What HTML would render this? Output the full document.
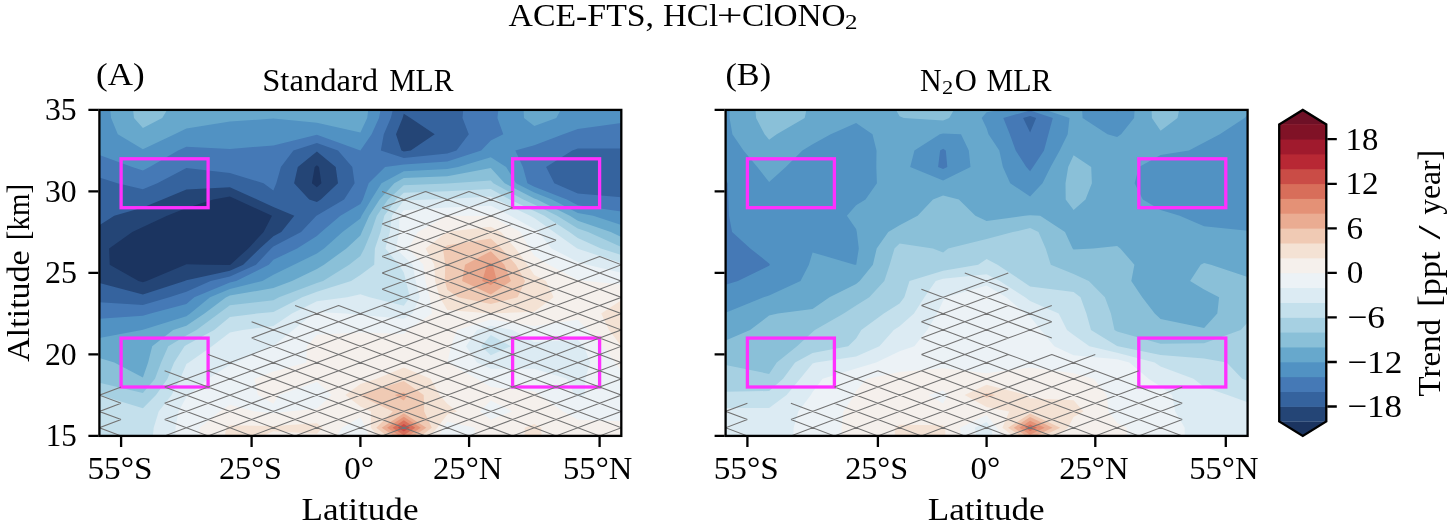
<!DOCTYPE html>
<html><head><meta charset="utf-8"><title>ACE-FTS, HCl+ClONO2</title>
<style>html,body{margin:0;padding:0;background:#fff}svg{display:block}</style></head>
<body>
<svg width="1450" height="523" viewBox="0 0 1450 523">
<defs>
<clipPath id="clipA"><rect x="99.4" y="109.9" width="521.9" height="326.0"/></clipPath>
<clipPath id="clipB"><rect x="725.6" y="109.9" width="522.0" height="326.0"/></clipPath>
</defs>
<g clip-path="url(#clipA)">
<rect x="99.4" y="109.9" width="521.9" height="326.0" fill="#1b3460"/>
<path d="M142.9 444.0L186.4 444.0L229.9 444.0L273.4 444.0L316.9 444.0L360.4 444.0L403.8 444.0L447.3 444.0L490.8 444.0L534.3 444.0L577.8 444.0L621.3 444.0L621.3 427.8L621.3 411.4L621.3 395.1L621.3 378.8L621.3 362.5L621.3 346.2L621.3 329.9L621.3 313.6L621.3 297.3L621.3 281.0L621.3 264.8L621.3 248.4L621.3 232.1L621.3 215.8L621.3 199.5L621.3 183.2L621.3 166.9L621.3 150.6L621.3 134.3L621.3 118.0L621.3 101.8L577.8 101.8L534.3 101.8L490.8 101.8L447.3 101.8L403.8 101.8L360.4 101.8L316.9 101.8L273.4 101.8L229.9 101.8L186.4 101.8L142.9 101.8L99.4 101.8L99.4 118.0L99.4 134.3L99.4 150.6L99.4 166.9L99.4 183.2L99.4 199.5L99.4 215.8L99.4 232.1L99.4 248.4L99.4 264.8L99.4 281.0L99.4 297.3L99.4 313.6L99.4 329.9L99.4 346.2L99.4 362.5L99.4 378.8L99.4 395.1L99.4 411.4L99.4 427.8L99.4 444.0ZM138.5 281.0L109.7 264.8L109.1 248.4L132.3 232.1L142.9 227.0L167.0 215.8L186.4 208.1L213.2 199.5L229.9 196.6L236.5 199.5L272.0 215.8L263.6 232.1L248.3 248.4L230.4 264.8L229.9 265.0L205.6 264.8L186.4 264.3L185.3 264.8L146.7 281.0L142.9 282.3ZM311.9 183.2L314.7 166.9L316.9 165.2L319.0 166.9L321.4 183.2L316.9 187.3Z" fill="#244576"/>
<path d="M142.9 444.0L186.4 444.0L229.9 444.0L273.4 444.0L316.9 444.0L360.4 444.0L403.8 444.0L447.3 444.0L490.8 444.0L534.3 444.0L577.8 444.0L621.3 444.0L621.3 427.8L621.3 411.4L621.3 395.1L621.3 378.8L621.3 362.5L621.3 346.2L621.3 329.9L621.3 313.6L621.3 297.3L621.3 281.0L621.3 264.8L621.3 248.4L621.3 232.1L621.3 215.8L621.3 199.5L621.3 183.2L621.3 166.9L621.3 150.6L621.3 134.3L621.3 118.0L621.3 101.8L577.8 101.8L534.3 101.8L490.8 101.8L447.3 101.8L403.8 101.8L360.4 101.8L316.9 101.8L273.4 101.8L229.9 101.8L186.4 101.8L142.9 101.8L99.4 101.8L99.4 118.0L99.4 134.3L99.4 150.6L99.4 166.9L99.4 183.2L99.4 199.5L99.4 215.8L99.4 225.2L114.2 215.8L142.9 207.4L162.4 199.5L186.4 189.5L229.9 187.3L257.1 199.5L273.4 206.9L294.3 215.8L281.3 232.1L273.4 236.3L259.8 248.4L243.2 264.8L229.9 270.8L186.4 280.3L184.6 281.1L142.9 294.5L99.4 282.9L99.4 297.3L99.4 313.6L99.4 329.9L99.4 346.2L99.4 362.5L99.4 378.8L99.4 395.1L99.4 411.4L99.4 427.8L99.4 444.0ZM309.2 199.5L294.1 183.2L297.8 166.9L316.9 151.5L335.7 166.9L338.0 183.2L320.8 199.5L316.9 201.9ZM401.4 150.6L396.0 134.3L402.6 118.0L403.8 113.8L410.5 118.0L434.7 134.3L410.7 150.6L403.8 151.4Z" fill="#35639e"/>
<path d="M142.9 444.0L186.4 444.0L229.9 444.0L273.4 444.0L316.9 444.0L360.4 444.0L403.8 444.0L447.3 444.0L490.8 444.0L534.3 444.0L577.8 444.0L621.3 444.0L621.3 427.8L621.3 411.4L621.3 395.1L621.3 378.8L621.3 362.5L621.3 346.2L621.3 329.9L621.3 313.6L621.3 297.3L621.3 281.0L621.3 264.8L621.3 248.4L621.3 232.1L621.3 215.8L621.3 199.5L621.3 197.2L577.8 193.5L554.3 183.2L546.1 166.9L572.3 150.6L577.8 148.6L621.3 148.4L621.3 134.3L621.3 118.0L621.3 101.8L577.8 101.8L534.3 101.8L490.8 101.8L464.0 101.8L462.5 118.0L468.8 134.3L456.5 150.6L447.3 153.6L403.8 157.9L380.8 150.6L383.8 134.3L390.8 118.0L394.9 101.8L360.4 101.8L316.9 101.8L273.4 101.8L229.9 101.8L186.4 101.8L142.9 101.8L99.4 101.8L99.4 118.0L99.4 134.3L99.4 150.6L99.4 166.9L99.4 177.6L117.5 183.2L142.9 189.2L157.3 183.2L186.4 168.0L229.9 173.0L263.5 183.2L273.4 190.4L276.3 183.2L280.9 166.9L293.4 150.6L316.9 142.9L338.0 150.6L352.3 166.9L354.6 183.2L344.1 199.5L316.9 215.6L316.4 215.8L301.1 232.1L273.4 246.5L271.2 248.4L256.0 264.8L229.9 276.6L210.6 281.0L186.4 291.8L169.3 297.3L142.9 305.1L99.4 302.3L99.4 313.6L99.4 329.9L99.4 346.2L99.4 362.5L99.4 378.8L99.4 395.1L99.4 411.4L99.4 427.8L99.4 444.0Z" fill="#4579b6"/>
<path d="M142.9 444.0L186.4 444.0L229.9 444.0L273.4 444.0L316.9 444.0L360.4 444.0L403.8 444.0L447.3 444.0L490.8 444.0L534.3 444.0L577.8 444.0L621.3 444.0L621.3 427.8L621.3 411.4L621.3 395.1L621.3 378.8L621.3 362.5L621.3 346.2L621.3 329.9L621.3 313.6L621.3 297.3L621.3 281.0L621.3 264.8L621.3 248.4L621.3 232.1L621.3 215.8L621.3 211.5L577.8 205.2L566.9 199.5L534.3 186.8L527.4 183.2L522.9 166.9L515.3 150.6L534.3 145.2L563.3 134.3L577.8 129.0L621.3 123.1L621.3 118.0L621.3 101.8L577.8 101.8L534.3 101.8L499.3 101.8L497.4 118.0L503.3 134.3L490.8 140.6L481.2 150.6L447.3 161.4L403.8 164.4L385.1 166.9L368.7 183.2L362.9 199.5L360.4 203.9L340.4 215.8L321.3 232.1L316.9 236.0L297.1 248.4L273.4 259.8L268.8 264.8L236.2 281.0L229.9 282.6L194.3 297.3L186.4 304.0L150.5 313.6L142.9 315.8L99.4 318.7L99.4 329.9L99.4 346.2L99.4 362.5L99.4 378.8L99.4 395.1L99.4 411.4L99.4 427.8L99.4 444.0ZM142.9 170.4L149.6 166.9L178.1 150.6L186.4 146.8L229.9 149.0L273.4 145.4L316.9 134.7L360.4 150.5L371.6 134.3L379.0 118.0L382.1 101.8L360.4 101.8L316.9 101.8L273.4 101.8L229.9 101.8L186.4 101.8L142.9 101.8L99.4 101.8L99.4 118.0L99.4 134.3L99.4 150.6L99.4 154.9L132.2 166.9Z" fill="#5192c3"/>
<path d="M142.9 444.0L186.4 444.0L229.9 444.0L273.4 444.0L316.9 444.0L360.4 444.0L403.8 444.0L447.3 444.0L490.8 444.0L534.3 444.0L577.8 444.0L621.3 444.0L621.3 427.8L621.3 411.4L621.3 395.1L621.3 378.8L621.3 362.5L621.3 346.2L621.3 329.9L621.3 313.6L621.3 297.3L621.3 281.0L621.3 264.8L621.3 248.4L621.3 232.1L621.3 224.9L593.2 215.8L577.8 213.0L552.0 199.5L534.3 192.6L516.0 183.2L506.1 166.9L490.8 157.2L458.0 166.9L447.3 169.1L403.8 171.2L381.5 183.2L371.3 199.5L361.6 215.8L360.4 218.6L342.5 232.1L324.1 248.4L316.9 253.5L293.9 264.8L273.4 274.7L262.4 281.0L229.9 289.1L210.0 297.3L190.2 313.6L186.4 316.2L142.9 329.8L141.8 329.9L99.4 337.9L99.4 346.2L99.4 362.5L99.4 378.8L99.4 395.1L99.4 411.4L99.4 427.8L99.4 444.0ZM142.9 149.2L174.6 134.3L186.4 128.6L229.9 121.6L273.4 118.5L316.9 122.7L360.4 132.5L367.2 118.0L369.3 101.8L360.4 101.8L316.9 101.8L273.4 101.8L229.9 101.8L186.4 101.8L142.9 101.8L109.4 101.8L111.1 118.0L117.8 134.3ZM534.3 126.1L556.3 118.0L565.1 101.8L534.3 101.8L523.2 101.8L524.0 118.0Z" fill="#67a8cc"/>
<path d="M142.9 444.0L186.4 444.0L229.9 444.0L273.4 444.0L316.9 444.0L360.4 444.0L403.8 444.0L447.3 444.0L490.8 444.0L534.3 444.0L577.8 444.0L621.3 444.0L621.3 427.8L621.3 411.4L621.3 395.1L621.3 378.8L621.3 362.5L621.3 346.2L621.3 329.9L621.3 313.6L621.3 297.3L621.3 281.0L621.3 264.8L621.3 248.4L621.3 236.9L610.8 232.1L577.8 220.8L569.8 215.8L537.1 199.5L534.3 198.5L504.7 183.2L490.8 168.1L447.3 176.2L403.8 178.1L394.3 183.2L379.6 199.5L369.2 215.8L361.9 232.1L360.4 235.5L346.4 248.4L324.0 264.8L316.9 269.1L292.0 281.0L273.4 288.1L229.9 295.6L225.8 297.4L204.5 313.6L186.4 325.8L173.2 329.9L152.2 346.2L148.1 362.5L142.9 377.4L114.3 362.5L99.4 358.1L99.4 362.5L99.4 378.8L99.4 395.1L99.4 411.4L99.4 427.8L99.4 444.0ZM142.9 128.0L162.2 118.0L172.1 101.8L142.9 101.8L132.2 101.8L134.0 118.0Z" fill="#8ac0d8"/>
<path d="M142.9 444.0L186.4 444.0L229.9 444.0L273.4 444.0L316.9 444.0L360.4 444.0L403.8 444.0L447.3 444.0L490.8 444.0L534.3 444.0L577.8 444.0L621.3 444.0L621.3 427.8L621.3 411.4L621.3 395.1L621.3 378.8L621.3 362.5L621.3 346.2L621.3 329.9L621.3 313.6L621.3 297.3L621.3 281.0L621.3 264.8L621.3 248.4L621.3 247.0L588.1 232.1L577.8 228.6L557.1 215.8L534.3 204.6L523.3 199.5L493.3 183.3L490.8 180.6L451.2 183.2L447.3 183.4L403.8 185.2L388.0 199.5L376.8 215.8L371.2 232.1L364.3 248.4L360.4 256.0L349.2 264.8L323.1 281.0L316.9 283.0L279.0 297.3L273.4 300.2L229.9 305.3L218.8 313.6L196.5 329.9L186.4 335.5L168.3 346.2L161.1 362.5L155.0 378.8L142.9 392.9L99.4 382.8L99.4 395.1L99.4 411.4L99.4 427.8L99.4 444.0Z" fill="#a6d0e2"/>
<path d="M142.9 444.0L186.4 444.0L229.9 444.0L273.4 444.0L316.9 444.0L360.4 444.0L403.8 444.0L447.3 444.0L490.8 444.0L534.3 444.0L577.8 444.0L621.3 444.0L621.3 427.8L621.3 411.4L621.3 395.1L621.3 378.8L621.3 362.5L621.3 346.2L621.3 329.9L621.3 313.6L621.3 297.3L621.3 281.0L621.3 264.8L621.3 255.1L600.9 248.4L577.8 238.0L569.4 232.1L544.4 215.8L534.3 210.9L509.8 199.5L490.8 189.1L447.3 191.2L403.8 192.8L396.4 199.5L384.3 215.8L380.5 232.1L374.9 248.4L374.2 264.8L360.4 275.0L351.1 281.0L316.9 291.8L302.2 297.3L273.4 312.0L256.6 313.6L229.9 317.0L214.2 329.9L186.4 345.1L184.5 346.2L174.1 362.5L167.5 378.8L156.0 395.1L142.9 408.3L99.4 395.1L99.4 395.1L99.4 395.1L99.4 411.4L99.4 427.8L99.4 444.0Z" fill="#c4e0ec"/>
<path d="M186.4 444.0L229.9 444.0L273.4 444.0L316.9 444.0L360.4 444.0L403.8 444.0L447.3 444.0L490.8 444.0L534.3 444.0L577.8 444.0L621.3 444.0L621.3 427.8L621.3 411.4L621.3 395.1L621.3 378.8L621.3 362.5L621.3 346.2L621.3 329.9L621.3 313.6L621.3 297.3L621.3 281.0L621.3 264.8L621.3 262.9L577.8 248.8L577.2 248.4L554.0 232.1L534.3 218.1L530.2 215.8L496.3 199.5L490.8 196.5L447.3 199.0L429.8 199.5L403.8 200.6L391.9 215.8L389.8 232.1L385.4 248.4L398.9 264.8L403.8 272.5L406.0 281.0L409.8 297.3L403.8 305.8L369.5 297.3L360.4 294.2L347.2 297.3L316.9 301.3L291.9 313.6L273.4 326.0L242.6 329.9L229.9 332.5L212.0 346.2L188.8 362.5L186.4 364.1L180.1 378.8L171.6 395.1L158.7 411.4L153.7 427.8L152.0 444.0ZM481.1 346.2L490.8 335.0L510.9 346.2L490.8 355.2Z" fill="#dcebf3"/>
<path d="M186.4 444.0L229.9 444.0L273.4 444.0L316.9 444.0L360.4 444.0L403.8 444.0L447.3 444.0L490.8 444.0L534.3 444.0L577.8 444.0L621.3 444.0L621.3 427.8L621.3 411.4L621.3 395.1L621.3 378.8L621.3 362.5L621.3 346.2L621.3 329.9L621.3 313.6L621.3 297.3L621.3 281.0L621.3 272.8L587.2 264.8L577.8 262.0L551.6 248.4L538.7 232.1L534.3 229.1L510.4 215.8L490.8 205.7L447.3 207.4L403.8 210.2L399.4 215.8L399.1 232.1L396.0 248.4L403.8 256.3L412.6 264.8L415.7 281.0L419.8 297.3L412.4 313.6L403.8 318.8L360.4 314.9L345.6 313.6L316.9 312.0L313.5 313.6L293.1 329.9L273.4 346.0L272.3 346.2L235.8 362.5L229.9 364.8L208.2 378.8L189.1 395.1L186.4 396.9L178.5 411.4L175.5 427.7L174.9 444.1ZM314.1 395.1L316.9 394.2L317.9 395.1L316.9 396.1ZM574.5 395.1L566.9 378.8L534.3 368.7L490.8 368.7L477.0 362.5L466.0 346.2L476.9 329.9L490.8 325.7L512.6 329.9L534.3 342.1L577.8 340.1L583.9 346.2L590.2 362.5L585.3 378.8L584.8 395.1L577.8 397.0Z" fill="#ecf2f6"/>
<path d="M229.9 444.0L273.4 444.0L316.9 444.0L331.9 444.0L341.9 427.8L360.4 417.2L365.5 427.8L372.4 444.0L403.8 444.0L436.2 444.0L442.7 427.8L447.3 421.7L474.9 427.8L474.7 444.0L490.8 444.0L534.3 444.0L577.8 444.0L621.3 444.0L621.3 427.8L621.3 421.3L577.8 419.7L563.2 411.4L539.4 395.1L534.3 391.6L490.8 386.9L476.8 378.8L447.5 362.5L451.0 346.2L457.2 329.9L490.8 319.6L534.3 326.0L577.8 319.8L587.7 329.9L602.7 346.2L615.1 362.5L621.3 370.7L621.3 362.5L621.3 346.2L621.3 329.9L621.3 313.6L621.3 297.3L621.3 284.4L586.2 281.0L577.8 280.0L548.9 264.8L534.3 255.8L529.7 248.4L520.4 232.1L490.8 216.0L456.4 215.8L447.3 215.8L446.9 215.8L417.9 232.1L408.2 248.4L423.4 264.8L425.4 281.0L429.7 297.3L431.9 313.6L407.9 329.9L403.8 334.0L360.4 332.4L316.9 334.8L306.8 346.2L306.3 362.5L273.4 371.6L254.4 378.8L257.9 395.1L273.4 403.7L278.6 395.1L316.9 381.8L331.7 395.1L316.9 408.5L289.0 411.4L273.4 413.2L254.9 411.4L229.9 404.8L219.7 411.4L199.6 427.8L198.8 444.0ZM479.8 411.4L490.8 400.6L512.1 411.4L490.8 419.6Z" fill="#f5f0ec"/>
<path d="M229.9 444.0L244.6 444.0L273.4 431.2L316.9 433.8L322.5 427.8L316.9 423.2L273.4 426.0L229.9 425.3L226.1 427.7L223.6 444.0ZM403.8 444.0L423.3 444.0L437.2 427.8L447.3 414.5L457.0 411.4L447.3 403.8L439.6 395.1L430.5 378.8L403.8 367.6L376.7 378.8L360.4 383.9L345.5 395.1L360.4 406.4L371.0 411.4L370.9 427.8L384.9 444.0ZM534.3 444.0L541.7 444.0L541.3 427.8L534.3 424.1L524.8 427.8L524.1 444.0ZM621.3 346.0L621.3 329.9L621.3 313.6L621.3 300.2L601.2 313.6L609.0 329.9ZM447.3 310.1L490.8 313.5L534.3 311.7L553.6 297.3L546.0 281.0L534.3 275.1L527.4 264.8L515.6 248.4L500.9 232.1L490.8 226.7L447.3 231.8L446.7 232.1L425.6 248.4L434.3 264.8L435.1 281.0L439.7 297.3Z" fill="#f4e2d4"/>
<path d="M403.8 444.0L410.4 444.0L431.8 427.8L424.2 411.4L423.7 395.1L403.8 381.0L360.4 394.3L359.3 395.1L360.4 396.0L392.8 411.4L376.3 427.8L397.5 444.0ZM490.8 304.1L517.6 297.3L525.1 281.0L515.9 264.8L501.5 248.4L490.8 238.5L447.3 245.2L443.0 248.4L445.2 264.8L444.8 281.0L447.3 289.7L458.1 297.3Z" fill="#f0cab4"/>
<path d="M403.8 442.3L426.3 427.8L403.8 413.2L381.7 427.8ZM403.8 400.6L407.7 395.1L403.8 392.4L394.7 395.1ZM490.8 294.6L511.0 281.0L504.3 264.8L490.8 251.2L465.0 264.8L462.1 281.0Z" fill="#eaac92"/>
<path d="M403.8 438.7L420.8 427.8L403.8 416.8L387.1 427.8ZM490.8 285.1L496.9 281.0L492.8 264.8L490.8 262.8L487.0 264.7L482.2 281.0Z" fill="#e49176"/>
<path d="M403.8 435.2L415.3 427.8L403.8 420.3L392.5 427.8Z" fill="#d86e5a"/>
<path d="M403.8 431.6L409.8 427.8L403.8 423.9L397.9 427.8Z" fill="#ca4c46"/>
<path d="M403.8 428.1L404.4 427.8L403.8 427.4L403.3 427.8Z" fill="#b82834"/>
<rect x="121.1" y="158.8" width="87.0" height="48.9" fill="none" stroke="#ff30ff" stroke-width="3.3"/>
<rect x="121.1" y="338.1" width="87.0" height="48.9" fill="none" stroke="#ff30ff" stroke-width="3.3"/>
<rect x="512.6" y="158.8" width="87.0" height="48.9" fill="none" stroke="#ff30ff" stroke-width="3.3"/>
<rect x="512.6" y="338.1" width="87.0" height="48.9" fill="none" stroke="#ff30ff" stroke-width="3.3"/>
<path d="M77.7 435.9L121.1 419.6M77.7 419.6L121.1 435.9M164.6 435.9L208.1 419.6M164.6 419.6L208.1 435.9M208.1 435.9L251.6 419.6M208.1 419.6L251.6 435.9M251.6 435.9L295.1 419.6M251.6 419.6L295.1 435.9M295.1 435.9L338.6 419.6M295.1 419.6L338.6 435.9M338.6 435.9L382.1 419.6M338.6 419.6L382.1 435.9M382.1 435.9L425.6 419.6M382.1 419.6L425.6 435.9M425.6 435.9L469.1 419.6M425.6 419.6L469.1 435.9M469.1 435.9L512.6 419.6M469.1 419.6L512.6 435.9M512.6 435.9L556.1 419.6M512.6 419.6L556.1 435.9M556.1 435.9L599.6 419.6M556.1 419.6L599.6 435.9M599.6 435.9L643.0 419.6M599.6 419.6L643.0 435.9M77.7 419.6L121.1 403.3M77.7 403.3L121.1 419.6M164.6 419.6L208.1 403.3M164.6 403.3L208.1 419.6M208.1 419.6L251.6 403.3M208.1 403.3L251.6 419.6M251.6 419.6L295.1 403.3M251.6 403.3L295.1 419.6M295.1 419.6L338.6 403.3M295.1 403.3L338.6 419.6M338.6 419.6L382.1 403.3M338.6 403.3L382.1 419.6M382.1 419.6L425.6 403.3M382.1 403.3L425.6 419.6M425.6 419.6L469.1 403.3M425.6 403.3L469.1 419.6M469.1 419.6L512.6 403.3M469.1 403.3L512.6 419.6M512.6 419.6L556.1 403.3M512.6 403.3L556.1 419.6M556.1 419.6L599.6 403.3M556.1 403.3L599.6 419.6M599.6 419.6L643.0 403.3M599.6 403.3L643.0 419.6M77.7 403.3L121.1 387.0M77.7 387.0L121.1 403.3M164.6 403.3L208.1 387.0M164.6 387.0L208.1 403.3M208.1 403.3L251.6 387.0M208.1 387.0L251.6 403.3M251.6 403.3L295.1 387.0M251.6 387.0L295.1 403.3M295.1 403.3L338.6 387.0M295.1 387.0L338.6 403.3M338.6 403.3L382.1 387.0M338.6 387.0L382.1 403.3M382.1 403.3L425.6 387.0M382.1 387.0L425.6 403.3M425.6 403.3L469.1 387.0M425.6 387.0L469.1 403.3M469.1 403.3L512.6 387.0M469.1 387.0L512.6 403.3M512.6 403.3L556.1 387.0M512.6 387.0L556.1 403.3M556.1 403.3L599.6 387.0M556.1 387.0L599.6 403.3M599.6 403.3L643.0 387.0M599.6 387.0L643.0 403.3M164.6 387.0L208.1 370.7M164.6 370.7L208.1 387.0M208.1 387.0L251.6 370.7M208.1 370.7L251.6 387.0M251.6 387.0L295.1 370.7M251.6 370.7L295.1 387.0M295.1 387.0L338.6 370.7M295.1 370.7L338.6 387.0M338.6 387.0L382.1 370.7M338.6 370.7L382.1 387.0M382.1 387.0L425.6 370.7M382.1 370.7L425.6 387.0M425.6 387.0L469.1 370.7M425.6 370.7L469.1 387.0M469.1 387.0L512.6 370.7M469.1 370.7L512.6 387.0M512.6 387.0L556.1 370.7M512.6 370.7L556.1 387.0M556.1 387.0L599.6 370.7M556.1 370.7L599.6 387.0M599.6 387.0L643.0 370.7M599.6 370.7L643.0 387.0M208.1 370.7L251.6 354.4M208.1 354.4L251.6 370.7M251.6 370.7L295.1 354.4M251.6 354.4L295.1 370.7M295.1 370.7L338.6 354.4M295.1 354.4L338.6 370.7M338.6 370.7L382.1 354.4M338.6 354.4L382.1 370.7M382.1 370.7L425.6 354.4M382.1 354.4L425.6 370.7M425.6 370.7L469.1 354.4M425.6 354.4L469.1 370.7M469.1 370.7L512.6 354.4M469.1 354.4L512.6 370.7M512.6 370.7L556.1 354.4M512.6 354.4L556.1 370.7M556.1 370.7L599.6 354.4M556.1 354.4L599.6 370.7M599.6 370.7L643.0 354.4M599.6 354.4L643.0 370.7M251.6 354.4L295.1 338.1M251.6 338.1L295.1 354.4M295.1 354.4L338.6 338.1M295.1 338.1L338.6 354.4M338.6 354.4L382.1 338.1M338.6 338.1L382.1 354.4M382.1 354.4L425.6 338.1M382.1 338.1L425.6 354.4M425.6 354.4L469.1 338.1M425.6 338.1L469.1 354.4M469.1 354.4L512.6 338.1M469.1 338.1L512.6 354.4M512.6 354.4L556.1 338.1M512.6 338.1L556.1 354.4M556.1 354.4L599.6 338.1M556.1 338.1L599.6 354.4M599.6 354.4L643.0 338.1M599.6 338.1L643.0 354.4M251.6 338.1L295.1 321.8M251.6 321.8L295.1 338.1M295.1 338.1L338.6 321.8M295.1 321.8L338.6 338.1M338.6 338.1L382.1 321.8M338.6 321.8L382.1 338.1M382.1 338.1L425.6 321.8M382.1 321.8L425.6 338.1M425.6 338.1L469.1 321.8M425.6 321.8L469.1 338.1M469.1 338.1L512.6 321.8M469.1 321.8L512.6 338.1M512.6 338.1L556.1 321.8M512.6 321.8L556.1 338.1M556.1 338.1L599.6 321.8M556.1 321.8L599.6 338.1M599.6 338.1L643.0 321.8M599.6 321.8L643.0 338.1M295.1 321.8L338.6 305.5M295.1 305.5L338.6 321.8M338.6 321.8L382.1 305.5M338.6 305.5L382.1 321.8M382.1 321.8L425.6 305.5M382.1 305.5L425.6 321.8M425.6 321.8L469.1 305.5M425.6 305.5L469.1 321.8M469.1 321.8L512.6 305.5M469.1 305.5L512.6 321.8M512.6 321.8L556.1 305.5M512.6 305.5L556.1 321.8M556.1 321.8L599.6 305.5M556.1 305.5L599.6 321.8M599.6 321.8L643.0 305.5M599.6 305.5L643.0 321.8M382.1 305.5L425.6 289.2M382.1 289.2L425.6 305.5M425.6 305.5L469.1 289.2M425.6 289.2L469.1 305.5M469.1 305.5L512.6 289.2M469.1 289.2L512.6 305.5M512.6 305.5L556.1 289.2M512.6 289.2L556.1 305.5M556.1 305.5L599.6 289.2M556.1 289.2L599.6 305.5M599.6 305.5L643.0 289.2M599.6 289.2L643.0 305.5M382.1 289.2L425.6 272.9M382.1 272.9L425.6 289.2M425.6 289.2L469.1 272.9M425.6 272.9L469.1 289.2M469.1 289.2L512.6 272.9M469.1 272.9L512.6 289.2M512.6 289.2L556.1 272.9M512.6 272.9L556.1 289.2M556.1 289.2L599.6 272.9M556.1 272.9L599.6 289.2M599.6 289.2L643.0 272.9M599.6 272.9L643.0 289.2M382.1 272.9L425.6 256.6M382.1 256.6L425.6 272.9M425.6 272.9L469.1 256.6M425.6 256.6L469.1 272.9M469.1 272.9L512.6 256.6M469.1 256.6L512.6 272.9M512.6 272.9L556.1 256.6M512.6 256.6L556.1 272.9M556.1 272.9L599.6 256.6M556.1 256.6L599.6 272.9M599.6 272.9L643.0 256.6M599.6 256.6L643.0 272.9M382.1 256.6L425.6 240.3M382.1 240.3L425.6 256.6M425.6 256.6L469.1 240.3M425.6 240.3L469.1 256.6M469.1 256.6L512.6 240.3M469.1 240.3L512.6 256.6M512.6 256.6L556.1 240.3M512.6 240.3L556.1 256.6M382.1 240.3L425.6 224.0M382.1 224.0L425.6 240.3M425.6 240.3L469.1 224.0M425.6 224.0L469.1 240.3M469.1 240.3L512.6 224.0M469.1 224.0L512.6 240.3M512.6 240.3L556.1 224.0M512.6 224.0L556.1 240.3M382.1 224.0L425.6 207.7M382.1 207.7L425.6 224.0M425.6 224.0L469.1 207.7M425.6 207.7L469.1 224.0M469.1 224.0L512.6 207.7M469.1 207.7L512.6 224.0M382.1 207.7L425.6 191.4M382.1 191.4L425.6 207.7M425.6 207.7L469.1 191.4M425.6 191.4L469.1 207.7M469.1 207.7L512.6 191.4M469.1 191.4L512.6 207.7" fill="none" stroke="#737373" stroke-width="1.1"/>
</g>
<rect x="99.4" y="109.9" width="521.9" height="326.0" fill="none" stroke="#000" stroke-width="2.3"/>
<path d="M98.4 435.9H88.4M98.4 354.4H88.4M98.4 272.9H88.4M98.4 191.4H88.4M98.4 109.9H88.4M121.1 436.9V446.9M251.6 436.9V446.9M360.4 436.9V446.9M469.1 436.9V446.9M599.6 436.9V446.9" stroke="#000" stroke-width="2.3" fill="none"/>
<g clip-path="url(#clipB)">
<rect x="725.6" y="109.9" width="522.0" height="326.0" fill="#1b3460"/>
<path d="M769.1 444.0L812.6 444.0L856.1 444.0L899.6 444.0L943.1 444.0L986.6 444.0L1030.1 444.0L1073.6 444.0L1117.1 444.0L1160.6 444.0L1204.1 444.0L1247.6 444.0L1247.6 427.8L1247.6 411.4L1247.6 395.1L1247.6 378.8L1247.6 362.5L1247.6 346.2L1247.6 329.9L1247.6 313.6L1247.6 297.3L1247.6 281.0L1247.6 264.8L1247.6 248.4L1247.6 232.1L1247.6 215.8L1247.6 199.5L1247.6 183.2L1247.6 166.9L1247.6 150.6L1247.6 134.3L1247.6 118.0L1247.6 101.8L1204.1 101.8L1160.6 101.8L1117.1 101.8L1073.6 101.8L1030.1 101.8L986.6 101.8L943.1 101.8L899.6 101.8L856.1 101.8L812.6 101.8L769.1 101.8L725.6 101.8L725.6 118.0L725.6 134.3L725.6 150.6L725.6 166.9L725.6 183.2L725.6 199.5L725.6 215.8L725.6 232.1L725.6 248.4L725.6 264.8L725.6 281.0L725.6 297.3L725.6 313.6L725.6 329.9L725.6 346.2L725.6 362.5L725.6 378.8L725.6 395.1L725.6 411.4L725.6 427.8L725.6 444.0Z" fill="#244576"/>
<path d="M769.1 444.0L812.6 444.0L856.1 444.0L899.6 444.0L943.1 444.0L986.6 444.0L1030.1 444.0L1073.6 444.0L1117.1 444.0L1160.6 444.0L1204.1 444.0L1247.6 444.0L1247.6 427.8L1247.6 411.4L1247.6 395.1L1247.6 378.8L1247.6 362.5L1247.6 346.2L1247.6 329.9L1247.6 313.6L1247.6 297.3L1247.6 281.0L1247.6 264.8L1247.6 248.4L1247.6 232.1L1247.6 215.8L1247.6 199.5L1247.6 183.2L1247.6 166.9L1247.6 150.6L1247.6 134.3L1247.6 118.0L1247.6 101.8L1204.1 101.8L1160.6 101.8L1117.1 101.8L1073.6 101.8L1030.1 101.8L986.6 101.8L943.1 101.8L899.6 101.8L856.1 101.8L812.6 101.8L769.1 101.8L725.6 101.8L725.6 118.0L725.6 134.3L725.6 150.6L725.6 166.9L725.6 183.2L725.6 199.5L725.6 215.8L725.6 232.1L725.6 248.4L725.6 264.8L725.6 281.0L725.6 297.3L725.6 313.6L725.6 329.9L725.6 346.2L725.6 362.5L725.6 378.8L725.6 395.1L725.6 411.4L725.6 427.8L725.6 444.0Z" fill="#35639e"/>
<path d="M769.1 444.0L812.6 444.0L856.1 444.0L899.6 444.0L943.1 444.0L986.6 444.0L1030.1 444.0L1073.6 444.0L1117.1 444.0L1160.6 444.0L1204.1 444.0L1247.6 444.0L1247.6 427.8L1247.6 411.4L1247.6 395.1L1247.6 378.8L1247.6 362.5L1247.6 346.2L1247.6 329.9L1247.6 313.6L1247.6 297.3L1247.6 281.0L1247.6 264.8L1247.6 248.4L1247.6 232.1L1247.6 215.8L1247.6 199.5L1247.6 183.2L1247.6 166.9L1247.6 150.6L1247.6 134.3L1247.6 118.0L1247.6 101.8L1204.1 101.8L1160.6 101.8L1117.1 101.8L1073.6 101.8L1030.1 101.8L986.6 101.8L943.1 101.8L899.6 101.8L856.1 101.8L812.6 101.8L769.1 101.8L725.6 101.8L725.6 118.0L725.6 134.3L725.6 150.6L725.6 166.9L725.6 183.2L725.6 199.5L725.6 215.8L725.6 232.1L725.6 248.4L725.6 264.8L725.6 281.0L725.6 297.3L725.6 313.6L725.6 329.9L725.6 346.2L725.6 362.5L725.6 378.8L725.6 395.1L725.6 411.4L725.6 427.8L725.6 444.0ZM1023.1 118.0L1030.1 116.0L1036.1 118.0L1030.1 132.5Z" fill="#4579b6"/>
<path d="M769.1 444.0L812.6 444.0L856.1 444.0L899.6 444.0L943.1 444.0L986.6 444.0L1030.1 444.0L1073.6 444.0L1117.1 444.0L1160.6 444.0L1204.1 444.0L1247.6 444.0L1247.6 427.8L1247.6 411.4L1247.6 395.1L1247.6 378.8L1247.6 362.5L1247.6 346.2L1247.6 329.9L1247.6 313.6L1247.6 297.3L1247.6 281.0L1247.6 264.8L1247.6 248.4L1247.6 232.1L1247.6 215.8L1247.6 199.5L1247.6 183.2L1247.6 166.9L1247.6 150.6L1247.6 134.3L1247.6 118.0L1247.6 101.8L1204.1 101.8L1160.6 101.8L1118.6 101.8L1117.1 112.2L1114.1 101.8L1073.6 101.8L1030.1 101.8L986.6 101.8L943.1 101.8L899.6 101.8L856.1 101.8L812.6 101.8L769.1 101.8L725.6 101.8L725.6 118.0L725.6 134.3L725.6 150.6L725.6 166.9L725.6 179.4L727.7 183.2L728.4 199.5L729.0 215.8L732.1 232.1L750.3 248.4L769.1 263.4L769.9 264.8L769.1 265.7L737.9 281.0L725.6 284.8L725.6 297.3L725.6 313.6L725.6 329.9L725.6 346.2L725.6 362.5L725.6 378.8L725.6 395.1L725.6 411.4L725.6 427.8L725.6 444.0ZM938.1 166.9L940.1 150.6L943.1 148.8L945.8 150.6L947.3 166.9L943.1 169.0ZM1026.3 166.9L1015.7 150.6L1009.8 134.3L1003.3 118.0L1030.1 110.4L1052.8 118.0L1048.4 134.3L1044.0 150.6L1033.0 166.9L1030.1 171.2Z" fill="#5192c3"/>
<path d="M769.1 444.0L812.6 444.0L856.1 444.0L899.6 444.0L943.1 444.0L986.6 444.0L1030.1 444.0L1073.6 444.0L1117.1 444.0L1160.6 444.0L1204.1 444.0L1247.6 444.0L1247.6 427.8L1247.6 411.4L1247.6 395.1L1247.6 378.8L1247.6 362.5L1247.6 346.2L1247.6 329.9L1247.6 313.6L1247.6 297.3L1247.6 281.0L1247.6 264.8L1247.6 248.4L1247.6 232.1L1247.6 230.7L1204.1 226.2L1179.7 215.8L1160.6 210.1L1142.8 199.5L1134.6 183.2L1139.0 166.9L1160.6 154.9L1188.9 150.6L1204.1 142.4L1219.8 134.3L1244.6 118.0L1247.6 114.4L1247.6 101.8L1204.1 101.8L1160.6 101.8L1135.0 101.8L1134.1 118.0L1121.1 134.3L1117.1 137.1L1107.5 134.3L1082.6 118.0L1081.7 101.8L1073.6 101.8L1030.1 101.8L986.6 101.8L943.1 101.8L899.6 101.8L856.1 101.8L812.6 101.8L769.1 101.8L729.4 101.8L729.6 118.0L732.4 134.3L743.5 150.6L757.3 166.9L769.1 182.0L785.8 166.9L802.4 150.6L812.6 144.3L830.7 134.3L856.1 123.1L872.5 134.3L876.5 150.6L876.3 166.9L876.9 183.2L865.5 199.5L856.1 205.3L846.9 215.8L856.1 229.0L856.8 232.1L858.8 248.4L856.2 264.8L856.1 264.8L854.5 264.8L812.6 252.4L808.9 264.8L800.5 281.0L769.1 295.6L763.6 297.3L725.6 312.7L725.6 313.6L725.6 329.9L725.6 346.2L725.6 362.5L725.6 378.8L725.6 395.1L725.6 411.4L725.6 427.8L725.6 444.0ZM1010.2 183.2L1002.9 166.9L999.3 150.6L988.5 134.3L986.6 128.3L981.7 118.0L986.6 112.3L1030.1 104.8L1069.5 118.0L1067.7 134.3L1059.7 150.6L1050.6 166.9L1042.5 183.2L1030.1 196.5ZM910.2 166.9L914.4 150.6L939.8 134.3L943.1 133.5L961.0 134.3L968.8 150.6L970.5 166.9L943.1 180.6Z" fill="#67a8cc"/>
<path d="M769.1 444.0L812.6 444.0L856.1 444.0L899.6 444.0L943.1 444.0L986.6 444.0L1030.1 444.0L1073.6 444.0L1117.1 444.0L1160.6 444.0L1204.1 444.0L1247.6 444.0L1247.6 427.8L1247.6 411.4L1247.6 395.1L1247.6 378.8L1247.6 362.5L1247.6 346.2L1247.6 329.9L1247.6 313.6L1247.6 297.3L1247.6 281.0L1247.6 277.0L1210.9 264.8L1204.1 262.9L1200.7 264.8L1190.1 281.1L1204.1 289.6L1219.1 297.3L1217.3 313.6L1204.1 327.9L1160.6 319.1L1154.7 313.6L1142.2 297.3L1131.3 281.0L1134.4 264.8L1120.3 248.4L1117.1 245.9L1093.2 248.4L1073.6 249.6L1072.6 248.4L1065.0 232.1L1040.2 215.8L1030.1 215.3L1024.7 215.8L986.6 221.0L975.4 215.8L958.9 199.5L943.1 195.6L933.0 199.5L917.6 215.8L899.6 225.2L888.3 232.1L876.7 248.4L872.9 264.8L859.7 281.0L856.1 284.0L829.5 297.3L812.6 309.0L777.8 313.6L769.1 315.6L750.1 329.9L725.6 340.6L725.6 346.2L725.6 362.5L725.6 378.8L725.6 395.1L725.6 411.4L725.6 427.8L725.6 444.0ZM1073.6 209.9L1085.5 199.6L1091.9 183.2L1091.2 166.9L1073.6 155.2L1068.2 167.0L1065.5 183.2L1065.7 199.5ZM769.1 139.7L776.7 134.3L804.7 118.0L808.1 101.8L769.1 101.8L754.8 101.8L756.1 118.0L764.6 134.3ZM943.1 120.5L949.2 118.0L958.6 101.8L943.1 101.8L899.6 101.8L891.4 101.8L899.6 116.3L903.7 118.0ZM1160.6 130.8L1177.5 118.0L1180.8 101.8L1160.6 101.8L1151.3 101.8L1151.9 118.0Z" fill="#8ac0d8"/>
<path d="M769.1 444.0L812.6 444.0L856.1 444.0L899.6 444.0L943.1 444.0L986.6 444.0L1030.1 444.0L1073.6 444.0L1117.1 444.0L1160.6 444.0L1204.1 444.0L1247.6 444.0L1247.6 427.8L1247.6 411.4L1247.6 395.1L1247.6 378.8L1247.6 362.5L1247.6 346.2L1247.6 329.9L1247.6 322.6L1240.7 329.9L1204.1 343.2L1160.6 343.8L1117.1 331.6L1114.5 329.9L1110.9 313.6L1104.9 297.3L1088.8 281.0L1073.6 273.9L1050.8 264.8L1045.7 248.4L1038.5 232.1L1030.1 228.1L1012.9 232.1L986.6 238.9L948.1 248.4L943.1 252.6L932.9 248.4L899.6 243.4L894.5 248.4L889.7 264.8L884.3 281.0L869.3 297.3L856.1 305.5L843.7 313.6L814.9 329.9L812.6 332.0L797.0 346.2L776.8 362.5L769.1 373.9L725.6 365.1L725.6 378.8L725.6 395.1L725.6 411.4L725.6 427.8L725.6 444.0Z" fill="#a6d0e2"/>
<path d="M769.1 444.0L812.6 444.0L856.1 444.0L899.6 444.0L943.1 444.0L986.6 444.0L1030.1 444.0L1073.6 444.0L1117.1 444.0L1160.6 444.0L1204.1 444.0L1247.6 444.0L1247.6 427.8L1247.6 411.4L1247.6 395.1L1247.6 380.8L1242.2 378.8L1226.6 362.5L1204.1 358.4L1160.6 354.9L1118.0 346.2L1117.1 346.0L1091.0 329.9L1086.4 313.6L1080.5 297.3L1073.6 292.1L1030.1 286.5L1022.0 281.0L997.5 264.8L986.6 258.9L978.2 264.8L943.1 270.7L909.5 281.0L904.3 297.3L899.6 303.6L883.8 313.6L861.3 329.9L856.1 338.4L848.2 346.2L812.6 352.9L795.1 362.5L783.1 378.8L769.1 391.0L725.6 391.8L725.6 395.1L725.6 411.4L725.6 427.8L725.6 444.0Z" fill="#c4e0ec"/>
<path d="M769.1 444.0L812.6 444.0L856.1 444.0L899.6 444.0L943.1 444.0L986.6 444.0L1030.1 444.0L1073.6 444.0L1117.1 444.0L1160.6 444.0L1204.1 444.0L1247.6 444.0L1247.6 427.8L1247.6 411.4L1247.6 402.3L1227.6 395.1L1204.1 387.0L1193.5 378.8L1160.6 366.4L1154.6 362.5L1117.1 352.7L1089.4 346.2L1073.6 335.1L1067.0 329.9L1058.7 313.6L1030.1 301.1L1025.1 297.3L999.8 281.0L986.6 274.2L943.1 278.8L935.7 281.0L924.4 297.3L914.0 313.6L899.6 326.3L893.8 329.9L879.4 346.2L856.1 356.6L816.0 362.5L812.6 363.4L800.1 378.8L786.6 395.1L769.1 408.1L725.6 408.1L725.6 411.4L725.6 427.8L725.6 444.0Z" fill="#dcebf3"/>
<path d="M812.6 444.0L856.1 444.0L899.6 444.0L943.1 444.0L978.3 444.1L974.8 427.8L986.6 422.1L991.1 427.8L994.1 444.0L1030.1 444.0L1073.6 444.0L1117.1 444.0L1160.6 444.0L1184.8 444.0L1184.7 427.8L1175.2 411.4L1172.1 395.1L1160.6 386.4L1148.6 378.8L1129.4 362.5L1117.1 359.3L1073.6 355.2L1054.3 346.2L1040.9 329.9L1030.1 316.4L1025.4 313.6L1006.3 297.3L986.6 285.6L945.8 297.3L943.1 300.8L937.1 313.6L927.3 329.9L914.3 346.2L899.6 351.3L876.2 362.5L856.1 368.4L822.6 378.8L812.6 391.9L810.9 395.1L798.3 411.4L793.7 427.8L792.8 444.0Z" fill="#ecf2f6"/>
<path d="M856.1 444.0L899.6 444.0L943.1 444.0L961.9 444.0L960.0 427.8L986.6 415.0L996.8 427.8L1008.8 444.0L1030.1 444.0L1073.6 444.0L1117.1 444.0L1127.2 444.0L1126.8 427.8L1117.1 422.9L1108.5 411.4L1106.8 395.1L1093.6 378.8L1073.6 373.3L1030.1 367.5L986.6 373.2L943.1 368.3L899.6 372.1L866.7 378.8L856.1 391.0L854.7 395.1L843.4 411.4L841.6 427.8L841.6 444.0ZM928.7 395.1L943.1 390.6L947.4 395.1L943.1 403.5ZM986.6 299.9L987.6 297.4L986.6 296.7L984.5 297.3Z" fill="#f5f0ec"/>
<path d="M899.6 444.0L943.1 444.0L945.6 444.0L945.2 427.8L943.1 425.2L899.6 424.8L895.0 427.8L894.4 444.0ZM1030.1 444.0L1046.4 444.0L1067.9 427.8L1073.6 417.1L1083.5 411.4L1073.6 400.2L1030.1 398.3L1026.7 395.1L986.6 384.8L964.6 395.1L986.6 406.9L1009.2 411.4L1002.4 427.8L1023.4 444.0Z" fill="#f4e2d4"/>
<path d="M1030.1 442.0L1060.2 427.8L1030.1 413.4L1008.1 427.8ZM986.6 397.7L995.3 395.1L986.6 392.9L981.8 395.1Z" fill="#f0cab4"/>
<path d="M1030.1 438.4L1052.5 427.8L1030.1 417.1L1013.7 427.8Z" fill="#eaac92"/>
<path d="M1030.1 434.7L1044.7 427.8L1030.1 420.8L1019.4 427.7Z" fill="#e49176"/>
<path d="M1030.1 431.0L1037.0 427.8L1030.1 424.5L1025.0 427.8Z" fill="#d86e5a"/>
<rect x="747.4" y="158.8" width="87.0" height="48.9" fill="none" stroke="#ff30ff" stroke-width="3.3"/>
<rect x="747.4" y="338.1" width="87.0" height="48.9" fill="none" stroke="#ff30ff" stroke-width="3.3"/>
<rect x="1138.8" y="158.8" width="87.0" height="48.9" fill="none" stroke="#ff30ff" stroke-width="3.3"/>
<rect x="1138.8" y="338.1" width="87.0" height="48.9" fill="none" stroke="#ff30ff" stroke-width="3.3"/>
<path d="M703.9 435.9L747.4 419.6M703.9 419.6L747.4 435.9M790.9 435.9L834.4 419.6M790.9 419.6L834.4 435.9M834.4 435.9L877.9 419.6M834.4 419.6L877.9 435.9M877.9 435.9L921.4 419.6M877.9 419.6L921.4 435.9M921.4 435.9L964.8 419.6M921.4 419.6L964.8 435.9M964.8 435.9L1008.3 419.6M964.8 419.6L1008.3 435.9M1008.3 435.9L1051.8 419.6M1008.3 419.6L1051.8 435.9M1051.8 435.9L1095.3 419.6M1051.8 419.6L1095.3 435.9M1095.3 435.9L1138.8 419.6M1095.3 419.6L1138.8 435.9M1138.8 435.9L1182.3 419.6M1138.8 419.6L1182.3 435.9M703.9 419.6L747.4 403.3M703.9 403.3L747.4 419.6M790.9 419.6L834.4 403.3M790.9 403.3L834.4 419.6M834.4 419.6L877.9 403.3M834.4 403.3L877.9 419.6M877.9 419.6L921.4 403.3M877.9 403.3L921.4 419.6M921.4 419.6L964.8 403.3M921.4 403.3L964.8 419.6M964.8 419.6L1008.3 403.3M964.8 403.3L1008.3 419.6M1008.3 419.6L1051.8 403.3M1008.3 403.3L1051.8 419.6M1051.8 419.6L1095.3 403.3M1051.8 403.3L1095.3 419.6M1095.3 419.6L1138.8 403.3M1095.3 403.3L1138.8 419.6M1138.8 419.6L1182.3 403.3M1138.8 403.3L1182.3 419.6M834.4 403.3L877.9 387.0M834.4 387.0L877.9 403.3M877.9 403.3L921.4 387.0M877.9 387.0L921.4 403.3M921.4 403.3L964.8 387.0M921.4 387.0L964.8 403.3M964.8 403.3L1008.3 387.0M964.8 387.0L1008.3 403.3M1008.3 403.3L1051.8 387.0M1008.3 387.0L1051.8 403.3M1051.8 403.3L1095.3 387.0M1051.8 387.0L1095.3 403.3M1095.3 403.3L1138.8 387.0M1095.3 387.0L1138.8 403.3M1138.8 403.3L1182.3 387.0M1138.8 387.0L1182.3 403.3M834.4 387.0L877.9 370.7M834.4 370.7L877.9 387.0M877.9 387.0L921.4 370.7M877.9 370.7L921.4 387.0M921.4 387.0L964.8 370.7M921.4 370.7L964.8 387.0M964.8 387.0L1008.3 370.7M964.8 370.7L1008.3 387.0M1008.3 387.0L1051.8 370.7M1008.3 370.7L1051.8 387.0M1051.8 387.0L1095.3 370.7M1051.8 370.7L1095.3 387.0M1095.3 387.0L1138.8 370.7M1095.3 370.7L1138.8 387.0M921.4 370.7L964.8 354.4M921.4 354.4L964.8 370.7M964.8 370.7L1008.3 354.4M964.8 354.4L1008.3 370.7M1008.3 370.7L1051.8 354.4M1008.3 354.4L1051.8 370.7M1051.8 370.7L1095.3 354.4M1051.8 354.4L1095.3 370.7M921.4 354.4L964.8 338.1M921.4 338.1L964.8 354.4M964.8 354.4L1008.3 338.1M964.8 338.1L1008.3 354.4M921.4 338.1L964.8 321.8M921.4 321.8L964.8 338.1M964.8 338.1L1008.3 321.8M964.8 321.8L1008.3 338.1M1008.3 338.1L1051.8 321.8M1008.3 321.8L1051.8 338.1M921.4 321.8L964.8 305.5M921.4 305.5L964.8 321.8M964.8 321.8L1008.3 305.5M964.8 305.5L1008.3 321.8M1008.3 321.8L1051.8 305.5M1008.3 305.5L1051.8 321.8M921.4 305.5L964.8 289.2M921.4 289.2L964.8 305.5M964.8 305.5L1008.3 289.2M964.8 289.2L1008.3 305.5M964.8 289.2L1008.3 272.9M964.8 272.9L1008.3 289.2" fill="none" stroke="#737373" stroke-width="1.1"/>
</g>
<rect x="725.6" y="109.9" width="522.0" height="326.0" fill="none" stroke="#000" stroke-width="2.3"/>
<path d="M724.6 435.9H714.6M724.6 354.4H714.6M724.6 272.9H714.6M724.6 191.4H714.6M724.6 109.9H714.6M747.4 436.9V446.9M877.9 436.9V446.9M986.6 436.9V446.9M1095.3 436.9V446.9M1225.8 436.9V446.9" stroke="#000" stroke-width="2.3" fill="none"/>
<path d="M1279.2 124.4L1302.8 109.9L1326.3 124.4Z" fill="#6e1026"/>
<path d="M1279.2 421.4L1302.8 435.9L1326.3 421.4Z" fill="#1b3460"/>
<rect x="1279.2" y="406.25" width="47.1" height="15.45" fill="#244576"/>
<rect x="1279.2" y="391.40" width="47.1" height="15.45" fill="#35639e"/>
<rect x="1279.2" y="376.55" width="47.1" height="15.45" fill="#4579b6"/>
<rect x="1279.2" y="361.70" width="47.1" height="15.45" fill="#5192c3"/>
<rect x="1279.2" y="346.85" width="47.1" height="15.45" fill="#67a8cc"/>
<rect x="1279.2" y="332.00" width="47.1" height="15.45" fill="#8ac0d8"/>
<rect x="1279.2" y="317.15" width="47.1" height="15.45" fill="#a6d0e2"/>
<rect x="1279.2" y="302.30" width="47.1" height="15.45" fill="#c4e0ec"/>
<rect x="1279.2" y="287.45" width="47.1" height="15.45" fill="#dcebf3"/>
<rect x="1279.2" y="272.60" width="47.1" height="15.45" fill="#ecf2f6"/>
<rect x="1279.2" y="257.75" width="47.1" height="15.45" fill="#f5f0ec"/>
<rect x="1279.2" y="242.90" width="47.1" height="15.45" fill="#f4e2d4"/>
<rect x="1279.2" y="228.05" width="47.1" height="15.45" fill="#f0cab4"/>
<rect x="1279.2" y="213.20" width="47.1" height="15.45" fill="#eaac92"/>
<rect x="1279.2" y="198.35" width="47.1" height="15.45" fill="#e49176"/>
<rect x="1279.2" y="183.50" width="47.1" height="15.45" fill="#d86e5a"/>
<rect x="1279.2" y="168.65" width="47.1" height="15.45" fill="#ca4c46"/>
<rect x="1279.2" y="153.80" width="47.1" height="15.45" fill="#b82834"/>
<rect x="1279.2" y="138.95" width="47.1" height="15.45" fill="#a01a2d"/>
<rect x="1279.2" y="124.10" width="47.1" height="15.45" fill="#801226"/>
<path d="M1279.2 124.4L1302.8 109.9L1326.3 124.4L1326.3 421.4L1302.8 435.9L1279.2 421.4Z" fill="none" stroke="#000" stroke-width="2.3" stroke-linejoin="miter"/>
<path d="M1327.3 406.5H1336.8M1327.3 362.0H1336.8M1327.3 317.4H1336.8M1327.3 272.9H1336.8M1327.3 228.3H1336.8M1327.3 183.8H1336.8M1327.3 139.2H1336.8" stroke="#000" stroke-width="2.3" fill="none"/>
<g font-family="'Liberation Serif', 'DejaVu Serif', serif" fill="#000"><text><tspan x="508.50" y="25.80" font-size="32" textLength="145.54" lengthAdjust="spacingAndGlyphs">ACE-FTS,</tspan> <tspan x="663.00" y="25.80" font-size="32" textLength="55.05" lengthAdjust="spacingAndGlyphs">HCl</tspan><tspan x="716.75" y="25.80" font-size="32" textLength="25.81" lengthAdjust="spacingAndGlyphs">+</tspan><tspan x="742.00" y="25.80" font-size="32" textLength="103.58" lengthAdjust="spacingAndGlyphs">ClONO</tspan><tspan x="845.00" y="29.20" font-size="21.5" textLength="12.50" lengthAdjust="spacingAndGlyphs">2</tspan></text>
<text x="96.0" y="85.0" font-size="32.5" text-anchor="start" textLength="48.7" lengthAdjust="spacingAndGlyphs">(A)</text>
<text x="725.5" y="85.0" font-size="32.5" text-anchor="start" textLength="45.5" lengthAdjust="spacingAndGlyphs">(B)</text>
<text><tspan x="262.25" y="91.20" font-size="30.5" textLength="115.81" lengthAdjust="spacingAndGlyphs">Standard</tspan> <tspan x="389.25" y="91.20" font-size="30.5" textLength="64.26" lengthAdjust="spacingAndGlyphs">MLR</tspan></text>
<text><tspan x="920.00" y="91.20" font-size="30.5" textLength="21.62" lengthAdjust="spacingAndGlyphs">N</tspan><tspan x="942.00" y="93.90" font-size="19" textLength="11.18" lengthAdjust="spacingAndGlyphs">2</tspan><tspan x="954.75" y="91.20" font-size="30.5" textLength="22.05" lengthAdjust="spacingAndGlyphs">O</tspan> <tspan x="986.50" y="91.20" font-size="30.5" textLength="65.01" lengthAdjust="spacingAndGlyphs">MLR</tspan></text>
<text x="45.0" y="120.4" font-size="32.5" text-anchor="start" textLength="31.7" lengthAdjust="spacingAndGlyphs">35</text>
<text x="45.0" y="201.9" font-size="32.5" text-anchor="start" textLength="31.7" lengthAdjust="spacingAndGlyphs">30</text>
<text x="45.0" y="283.4" font-size="32.5" text-anchor="start" textLength="32.0" lengthAdjust="spacingAndGlyphs">25</text>
<text x="45.0" y="364.9" font-size="32.5" text-anchor="start" textLength="31.7" lengthAdjust="spacingAndGlyphs">20</text>
<text x="45.8" y="446.4" font-size="32.5" text-anchor="start" textLength="31.0" lengthAdjust="spacingAndGlyphs">15</text>
<text x="87.5" y="478.9" font-size="32.5" text-anchor="start" textLength="65.0" lengthAdjust="spacingAndGlyphs">55°S</text>
<text x="219.0" y="478.9" font-size="32.5" text-anchor="start" textLength="62.9" lengthAdjust="spacingAndGlyphs">25°S</text>
<text x="344.2" y="478.9" font-size="32.5" text-anchor="start" textLength="29.8" lengthAdjust="spacingAndGlyphs">0°</text>
<text x="433.0" y="478.9" font-size="32.5" text-anchor="start" textLength="69.3" lengthAdjust="spacingAndGlyphs">25°N</text>
<text x="563.0" y="478.9" font-size="32.5" text-anchor="start" textLength="69.3" lengthAdjust="spacingAndGlyphs">55°N</text>
<text x="301.5" y="519.5" font-size="32" text-anchor="start" textLength="117.0" lengthAdjust="spacingAndGlyphs">Latitude</text>
<text x="713.7" y="478.9" font-size="32.5" text-anchor="start" textLength="65.0" lengthAdjust="spacingAndGlyphs">55°S</text>
<text x="845.2" y="478.9" font-size="32.5" text-anchor="start" textLength="62.9" lengthAdjust="spacingAndGlyphs">25°S</text>
<text x="970.5" y="478.9" font-size="32.5" text-anchor="start" textLength="29.8" lengthAdjust="spacingAndGlyphs">0°</text>
<text x="1059.2" y="478.9" font-size="32.5" text-anchor="start" textLength="69.3" lengthAdjust="spacingAndGlyphs">25°N</text>
<text x="1189.2" y="478.9" font-size="32.5" text-anchor="start" textLength="69.3" lengthAdjust="spacingAndGlyphs">55°N</text>
<text x="927.7" y="519.5" font-size="32" text-anchor="start" textLength="117.0" lengthAdjust="spacingAndGlyphs">Latitude</text>
<text transform="translate(28.5 361.4) rotate(-90)"><tspan x="-0.25" y="0.00" font-size="32" textLength="111.27" lengthAdjust="spacingAndGlyphs">Altitude</tspan> <tspan x="121.25" y="0.00" font-size="32" textLength="56.33" lengthAdjust="spacingAndGlyphs">[km]</tspan></text>
<text transform="translate(1440.3 396.0) rotate(-90)"><tspan x="-0.50" y="0.00" font-size="32" textLength="77.51" lengthAdjust="spacingAndGlyphs">Trend</tspan> <tspan x="89.25" y="0.00" font-size="32" textLength="55.37" lengthAdjust="spacingAndGlyphs">[ppt</tspan> <tspan x="156.50" y="0.00" font-size="32" textLength="14.26" lengthAdjust="spacingAndGlyphs">/</tspan> <tspan x="181.25" y="0.00" font-size="32" textLength="64.62" lengthAdjust="spacingAndGlyphs">year]</tspan></text>
<text x="1345.5" y="149.7" font-size="32.5" text-anchor="start" textLength="32.8" lengthAdjust="spacingAndGlyphs">18</text>
<text x="1345.5" y="194.3" font-size="32.5" text-anchor="start" textLength="33.1" lengthAdjust="spacingAndGlyphs">12</text>
<text x="1346.5" y="238.8" font-size="32.5" text-anchor="start" textLength="16.6" lengthAdjust="spacingAndGlyphs">6</text>
<text x="1346.8" y="283.4" font-size="32.5" text-anchor="start" textLength="16.6" lengthAdjust="spacingAndGlyphs">0</text>
<text x="1347.2" y="327.9" font-size="32.5" text-anchor="start" textLength="37.7" lengthAdjust="spacingAndGlyphs">−6</text>
<text x="1347.2" y="372.5" font-size="32.5" text-anchor="start" textLength="55.2" lengthAdjust="spacingAndGlyphs">−12</text>
<text x="1347.2" y="417.0" font-size="32.5" text-anchor="start" textLength="54.7" lengthAdjust="spacingAndGlyphs">−18</text></g>
</svg>
</body></html>
